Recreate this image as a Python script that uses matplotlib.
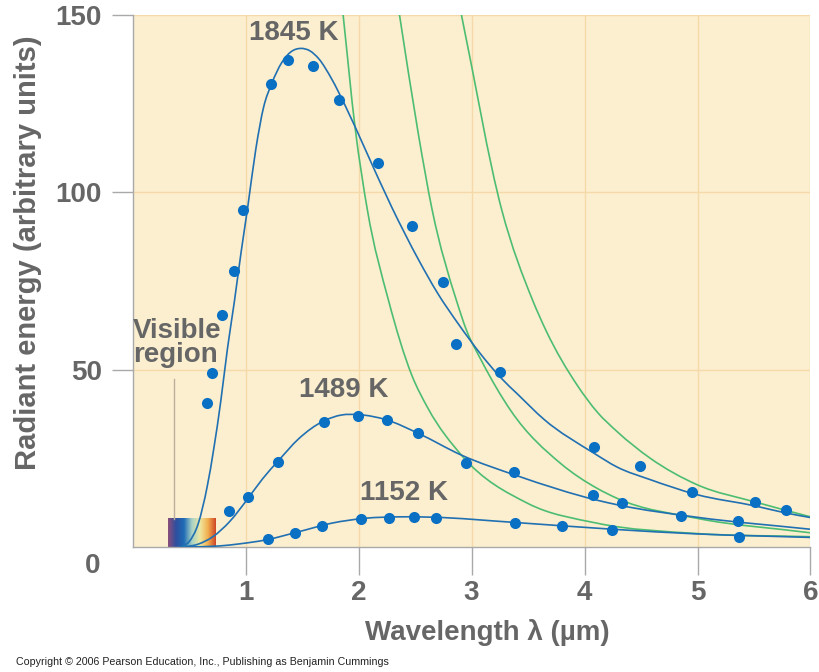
import matplotlib
matplotlib.use("Agg")
import matplotlib.pyplot as plt
import numpy as np
from matplotlib.path import Path
from matplotlib.patches import PathPatch
from matplotlib.colors import LinearSegmentedColormap
from matplotlib import font_manager

# measured points (wavelength in um, radiant energy in arbitrary units)
dots_1845_x = [0.657, 0.701, 0.795, 0.901, 0.978, 1.229, 1.379, 1.596, 1.825, 2.168,
               2.470, 2.749, 2.866, 3.256, 4.084, 4.488, 4.955, 5.509, 5.784]
dots_1845_y = [40.6, 49.1, 65.3, 77.7, 95.0, 130.5, 137.1, 135.6, 126.0, 108.1,
               90.4, 74.6, 57.1, 49.3, 28.2, 22.7, 15.6, 12.7, 10.3]

dots_1489_x = [0.854, 1.018, 1.286, 1.690, 1.998, 2.256, 2.529, 2.949, 3.380, 4.077,
               4.330, 4.854, 5.362]
dots_1489_y = [10.1, 14.0, 24.0, 35.3, 36.9, 35.7, 32.0, 23.7, 21.1, 14.7,
               12.4, 8.8, 7.4]

dots_1152_x = [1.200, 1.435, 1.673, 2.025, 2.265, 2.494, 2.681, 3.385, 3.802, 4.245, 5.365]
dots_1152_y = [2.2, 3.9, 5.9, 7.8, 8.1, 8.4, 8.2, 6.8, 5.9, 4.8, 2.9]

# blue curves
curve_1845_x = [0.42, 0.50, 0.58, 0.66, 0.72, 0.78, 0.84, 0.90, 0.96, 1.02, 1.09, 1.16,
                1.23, 1.32, 1.40, 1.49, 1.57, 1.65, 1.76, 1.88, 2.06, 2.29, 2.53, 2.70,
                2.88, 3.09, 3.25, 3.41, 3.64, 4.08, 4.29, 4.58, 4.99, 5.52, 5.78, 6.0]
curve_1845_y = [0, 1.5, 6.5, 17, 28, 41, 56, 69, 83, 96, 112, 124,
                130.5, 136.5, 139.5, 140.5, 139.8, 137.5, 132, 124.5, 112, 96, 81, 71.5,
                63, 54, 48, 43, 36, 26.5, 22.5, 19, 14.8, 11.5, 9.6, 8.3]

curve_1489_x = [0.46, 0.58, 0.71, 0.86, 1.01, 1.15, 1.29, 1.47, 1.69, 1.85, 2.00, 2.25,
                2.53, 2.91, 3.41, 4.11, 4.29, 4.99, 6.0]
curve_1489_y = [0, 0.8, 2.9, 7.2, 13.2, 19.2, 24.3, 30.5, 35.5, 37.2, 37.3, 35.8,
                32.0, 25.9, 20.0, 13.2, 11.9, 8.4, 5.0]

curve_1152_x = [0.48, 0.77, 0.95, 1.18, 1.47, 1.76, 2.06, 2.35, 2.65, 3.39, 4.25, 4.99, 6.0]
curve_1152_y = [0, 0.3, 0.9, 2.0, 4.3, 6.7, 8.1, 8.5, 8.4, 6.9, 5.0, 3.7, 2.7]

# green curves
green_a_x = [1.863, 1.97, 2.078, 2.265, 2.47, 2.616, 2.91, 3.497, 4.113, 4.99, 6.0]
green_a_y = [150, 118, 95, 69.5, 48.5, 39.0, 25.9, 12.3, 6.7, 3.8, 2.9]
green_b_x = [2.362, 2.529, 2.652, 2.866, 2.955, 3.086, 3.35, 3.79, 4.113, 4.289, 4.993, 6.0]
green_b_y = [150, 116.4, 94.9, 69.5, 61.1, 52.6, 38.3, 23.5, 16.5, 13.7, 8.1, 4.0]
green_c_x = [2.91, 3.268, 3.541, 3.659, 3.937, 4.113, 4.289, 4.582, 4.993, 5.52, 6.0]
green_c_y = [150, 94.9, 69.5, 61.0, 45.5, 38.0, 32.5, 25.0, 17.6, 12.6, 8.5]

visible_x = [0.314, 0.731]
visible_top = 7.9
visible_line_x = 0.367
visible_line_top = 47.3

x_ticks = [1, 2, 3, 4, 5, 6]
y_ticks = [50, 100, 150]

GRAY = "#666666"
BLUE_DOT = "#0a70c4"
BLUE_LINE = "#2170b2"
GREEN = "#4dbd72"

names = {f.name for f in font_manager.fontManager.ttflist}
narrow = "Liberation Sans Narrow" in names
plt.rcParams["font.family"] = ["Liberation Sans", "DejaVu Sans"]


def smooth_path(xs, ys):
    # cubic Hermite through the read points, drawn as Bezier segments
    x = np.asarray(xs, float)
    y = np.asarray(ys, float)
    h = np.diff(x)
    d = np.diff(y) / h
    m = np.empty_like(y)
    m[0], m[-1] = d[0], d[-1]
    m[1:-1] = (h[1:] * d[:-1] + h[:-1] * d[1:]) / (h[:-1] + h[1:])
    verts = [(x[0], y[0])]
    codes = [Path.MOVETO]
    for i in range(len(x) - 1):
        verts += [(x[i] + h[i] / 3, y[i] + m[i] * h[i] / 3),
                  (x[i + 1] - h[i] / 3, y[i + 1] - m[i + 1] * h[i] / 3),
                  (x[i + 1], y[i + 1])]
        codes += [Path.CURVE4] * 3
    return Path(verts, codes)


fig = plt.figure(figsize=(8.19, 6.72), dpi=100)
ax = fig.add_axes([132.6 / 819, 125 / 672, 677.9 / 819, 532.3 / 672])
ax.set_xlim(0, 6)
ax.set_ylim(0, 150)
ax.set_facecolor("#fcefcf")

for gx, gy in [(green_a_x, green_a_y), (green_b_x, green_b_y), (green_c_x, green_c_y)]:
    ax.add_patch(PathPatch(smooth_path(gx, gy), fill=False, ec=GREEN, lw=1.2, zorder=3))
for cx, cy in [(curve_1845_x, curve_1845_y), (curve_1489_x, curve_1489_y),
               (curve_1152_x, curve_1152_y)]:
    ax.add_patch(PathPatch(smooth_path(cx, cy), fill=False, ec=BLUE_LINE, lw=1.2, zorder=4))

for dx, dy in [(dots_1845_x, dots_1845_y), (dots_1489_x, dots_1489_y),
               (dots_1152_x, dots_1152_y)]:
    ax.plot(dx, dy, "o", color=BLUE_DOT, ms=8, mec="none", zorder=5)

# visible spectrum strip
spec = LinearSegmentedColormap.from_list(
    "spec", ["#8c4e7c", "#2e4f9e", "#1f6cb6", "#a8d2c6", "#efe7a2", "#f1b04e", "#cf4528"])
ax.imshow(np.linspace(0, 1, 256)[None, :], cmap=spec, aspect="auto",
          extent=[visible_x[0], visible_x[1], 0, visible_top], zorder=2)
ax.plot([visible_line_x, visible_line_x], [visible_top, visible_line_top],
        color="#bcae9c", lw=1, zorder=2)

ax.set_xticks(x_ticks)
ax.set_yticks(y_ticks)
ax.grid(True, color="#f5d9a9", lw=1)
ax.set_axisbelow(True)
for s in ["top", "right"]:
    ax.spines[s].set_visible(False)
for s in ["left", "bottom"]:
    ax.spines[s].set_color("#a9a9a9")
    ax.spines[s].set_linewidth(1)
ax.tick_params(axis="x", length=20, width=1, color="#a9a9a9", pad=4,
               labelsize=20, labelcolor=GRAY)
ax.tick_params(axis="y", length=15, width=1, color="#a9a9a9", pad=7,
               labelsize=20, labelcolor=GRAY)
for lab in ax.get_xticklabels() + ax.get_yticklabels():
    lab.set_fontweight("bold")

fig.text(100 / 819, 1 - 566 / 672, "0", ha="right", va="center",
         fontsize=20, fontweight="bold", color=GRAY)
fig.text(28 / 819, 1 - 253 / 672, "Radiant energy (arbitrary units)", rotation=90,
         ha="center", va="center", fontsize=21, fontweight="bold", color=GRAY)
fig.text(487 / 819, 1 - 632 / 672, "Wavelength λ (µm)", ha="center", va="center",
         fontsize=20, fontweight="bold", color=GRAY)

ax.text(1.425, 144.8, "1845 K", ha="center", va="center", fontsize=20,
        fontweight="bold", color=GRAY)
ax.text(1.865, 44.2, "1489 K", ha="center", va="center", fontsize=20,
        fontweight="bold", color=GRAY)
ax.text(2.406, 15.2, "1152 K", ha="center", va="center", fontsize=20,
        fontweight="bold", color=GRAY)
ax.text(0.004, 57.6, "Visible\nregion", ha="left", va="center", fontsize=20,
        fontweight="bold", color=GRAY, linespacing=0.9)

copy_text = "Copyright © 2006 Pearson Education, Inc., Publishing as Benjamin Cummings"
if narrow:
    fig.text(16 / 819, 1 - 662 / 672, copy_text, ha="left", va="center",
             fontsize=8.6, family="Liberation Sans Narrow", color="#222222")
else:
    fig.text(16 / 819, 1 - 662 / 672, copy_text, ha="left", va="center",
             fontsize=7.7, color="#222222")

fig.savefig("out.png", dpi=100)
